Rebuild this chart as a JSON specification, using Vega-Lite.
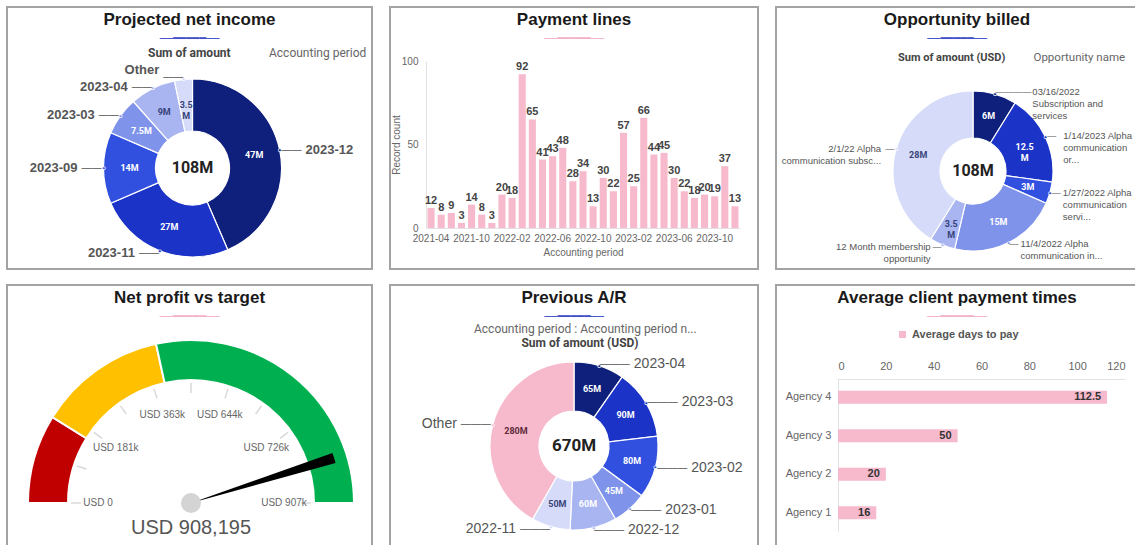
{
  "$schema": "https://vega.github.io/schema/vega-lite/v6.json",
  "background": "white",
  "padding": {"left": 6, "top": 6, "right": 0, "bottom": 0},
  "spacing": 14,
  "resolve": {"scale": {"color": "independent", "fill": "independent", "theta": "independent"}, "legend": {"color": "independent", "fill": "independent"}},
  "config": {
    "view": {"stroke": "#a3a3a3", "strokeWidth": 2},
    "font": "Liberation Sans",
    "title": {"font": "Liberation Sans", "fontSize": 17, "fontWeight": "bold", "color": "#1a1a1a", "frame": "group", "offset": -38, "subtitleFont": "DejaVu Sans", "subtitleFontSize": 11, "subtitlePadding": 4},
    "axis": {"labelFont": "Liberation Sans", "titleFont": "Liberation Sans", "grid": false, "ticks": false, "domainColor": "#e3e3e3", "labelColor": "#666666", "titleColor": "#666666", "titleFontWeight": "normal"},
    "legend": {"labelFont": "Roboto", "titleFont": "Roboto", "padding": 0, "offset": 0}
  },
  "vconcat": [
    {
      "spacing": 16,
      "resolve": {"scale": {"color": "independent", "fill": "independent", "theta": "independent"}, "legend": {"color": "independent", "fill": "independent"}},
      "hconcat": [
        {
          "width": 365, "height": 262,
          "view": {"stroke": "#a3a3a3", "strokeWidth": 2},
          "title": {"text": "Projected net income", "subtitle": "──━━━━━──", "subtitleColor": "#3f51c7"},
          "layer": [
            {
              "data": {"values": [
                {"period": "2023-12", "amount": 47, "label": "47M", "ord": 1},
                {"period": "2023-11", "amount": 27, "label": "27M", "ord": 2},
                {"period": "2023-09", "amount": 14, "label": "14M", "ord": 3},
                {"period": "2023-03", "amount": 7.5, "label": "7.5M", "ord": 4},
                {"period": "2023-04", "amount": 9, "label": "9M", "ord": 5},
                {"period": "Other", "amount": 3.5, "label": "3.5\nM", "ord": 6}
              ]},
              "encoding": {
                "theta": {"field": "amount", "type": "quantitative", "stack": true},
                "order": {"field": "ord", "type": "quantitative"},
                "color": {"field": "period", "type": "nominal", "legend": null, "scale": {"domain": ["2023-12", "2023-11", "2023-09", "2023-03", "2023-04", "Other"], "range": ["#0e1f7c", "#1b33c6", "#3150df", "#7f93ea", "#a8b5f1", "#d5dbf8"]}}
              },
              "layer": [
                {"mark": {"type": "arc", "innerRadius": 37, "outerRadius": 89, "stroke": "white", "strokeWidth": 1.2, "xOffset": 3, "yOffset": 30}},
                {"mark": {"type": "text", "radius": 63, "xOffset": 3, "yOffset": 30, "fontSize": 9, "fontWeight": "bold", "font": "Roboto", "lineBreak": "\n", "baseline": "middle"},
                 "encoding": {"text": {"field": "label", "type": "nominal"}, "color": {"condition": {"test": "datum.period == '2023-04' || datum.period == 'Other'", "value": "#38437a"}, "value": "white"}}},
                {"mark": {"type": "text", "text": "●", "radius": 89, "xOffset": 3, "yOffset": 30, "fontSize": 7, "baseline": "middle", "stroke": "white", "strokeWidth": 0.6}},
                {"mark": {"type": "text", "text": "——", "radius": 91, "xOffset": 3, "yOffset": 30, "fontSize": 10, "baseline": "middle", "align": {"expr": "datum.amount_start + datum.amount_end > 108 ? 'right' : 'left'"}},
                 "encoding": {"color": {"value": "#555555"}}},
                {"mark": {"type": "text", "radius": 91, "xOffset": 3, "yOffset": 30, "fontSize": 13, "fontWeight": "bold",
                   "baseline": {"expr": "cos(PI * (datum.amount_start + datum.amount_end) / 108) > 0.95 ? 'bottom' : 'middle'"},
                   "align": {"expr": "datum.amount_start + datum.amount_end > 108 ? 'right' : 'left'"},
                   "dx": {"expr": "datum.amount_start + datum.amount_end > 108 ? -24 : 24"}},
                 "encoding": {"text": {"field": "period", "type": "nominal"}, "color": {"value": "#555555"}}}
              ]
            },
            {
              "data": {"values": [{"t": "108M"}]},
              "mark": {"type": "text", "fontSize": 16, "fontWeight": "bold", "font": "Roboto", "xOffset": 3, "yOffset": 30, "baseline": "middle"},
              "encoding": {
                "text": {"field": "t", "type": "nominal"},
                "fill": {"datum": "Accounting period", "type": "nominal", "scale": {"range": ["#222222"]},
                  "legend": {"orient": "none", "legendX": 141, "legendY": 40, "title": "Sum of amount", "titleOrient": "left", "titleFontSize": 12, "titleFontWeight": "bold", "titleColor": "#444444", "labelFontSize": 12, "labelColor": "#666666", "symbolOpacity": 0, "symbolSize": 1, "titlePadding": 22}}
              }
            }
          ]
        },
        {
          "width": 368, "height": 262,
          "title": {"text": "Payment lines", "subtitle": "──━━━━━──", "subtitleColor": "#f4b2c6"},
          "data": {"values": [
            {"month": "2021-04", "count": 12}, {"month": "2021-06", "count": 8}, {"month": "2021-07", "count": 9},
            {"month": "2021-09", "count": 3}, {"month": "2021-10", "count": 14}, {"month": "2021-11", "count": 8},
            {"month": "2021-12", "count": 3}, {"month": "2022-01", "count": 20}, {"month": "2022-02", "count": 18},
            {"month": "2022-03", "count": 92}, {"month": "2022-04", "count": 65}, {"month": "2022-05", "count": 41},
            {"month": "2022-06", "count": 43}, {"month": "2022-07", "count": 48}, {"month": "2022-08", "count": 28},
            {"month": "2022-09", "count": 34}, {"month": "2022-10", "count": 13}, {"month": "2022-11", "count": 30},
            {"month": "2022-12", "count": 22}, {"month": "2023-01", "count": 57}, {"month": "2023-02", "count": 25},
            {"month": "2023-03", "count": 66}, {"month": "2023-04", "count": 44}, {"month": "2023-05", "count": 45},
            {"month": "2023-06", "count": 30}, {"month": "2023-07", "count": 22}, {"month": "2023-08", "count": 18},
            {"month": "2023-09", "count": 20}, {"month": "2023-10", "count": 19}, {"month": "2023-11", "count": 37},
            {"month": "2023-12", "count": 13}
          ]},
          "encoding": {
            "x": {"field": "month", "type": "ordinal", "sort": null,
              "scale": {"range": [36, 350], "paddingInner": 0.3, "paddingOuter": 0.15},
              "axis": {"values": ["2021-04", "2021-10", "2022-02", "2022-06", "2022-10", "2023-02", "2023-06", "2023-10"], "labelAngle": 0, "labelOverlap": false, "offset": -41, "title": "Accounting period", "labelFontSize": 10, "titleFontSize": 10, "labelPadding": 5, "titlePadding": 4}},
            "y": {"field": "count", "type": "quantitative",
              "scale": {"domain": [0, 100], "range": [221, 54]},
              "axis": {"values": [0, 50, 100], "offset": -36, "title": "Record count", "labelFontSize": 10, "titleFontSize": 10, "labelPadding": 8, "titlePadding": 0}}
          },
          "layer": [
            {"mark": {"type": "bar", "color": "#f7b9cc"}},
            {"mark": {"type": "text", "baseline": "bottom", "dy": -2, "fontSize": 11, "fontWeight": "bold", "color": "#444444"},
             "encoding": {"text": {"field": "count", "type": "quantitative"}}}
          ]
        },
        {
          "width": 362, "height": 262,
          "view": {"stroke": "#a3a3a3", "strokeWidth": 2},
          "title": {"text": "Opportunity billed", "subtitle": "──━━━━━──", "subtitleColor": "#3f51c7"},
          "layer": [
            {
              "data": {"values": [
                {"opp": "03/16/2022\nSubscription and\nservices", "amount": 6, "label": "6M", "ord": 1},
                {"opp": "1/14/2023 Alpha\ncommunication\nor...", "amount": 12.5, "label": "12.5\nM", "ord": 2},
                {"opp": "1/27/2022 Alpha\ncommunication\nservi...", "amount": 3, "label": "3M", "ord": 3},
                {"opp": "11/4/2022 Alpha\ncommunication in...", "amount": 15, "label": "15M", "ord": 4},
                {"opp": "12 Month membership\nopportunity", "amount": 3.5, "label": "3.5\nM", "ord": 5},
                {"opp": "2/1/22 Alpha\ncommunication subsc...", "amount": 28, "label": "28M", "ord": 6}
              ]},
              "encoding": {
                "theta": {"field": "amount", "type": "quantitative", "stack": true},
                "order": {"field": "ord", "type": "quantitative"},
                "color": {"field": "opp", "type": "nominal", "legend": null, "sort": null, "scale": {"range": ["#0e1f7c", "#1b33c6", "#3150df", "#7f93ea", "#a8b5f1", "#d5dbf8"]}}
              },
              "layer": [
                {"mark": {"type": "arc", "innerRadius": 33, "outerRadius": 80, "stroke": "white", "strokeWidth": 1.2, "xOffset": 16, "yOffset": 33}},
                {"mark": {"type": "text", "radius": 57, "xOffset": 16, "yOffset": 33, "fontSize": 9, "fontWeight": "bold", "font": "Roboto", "lineBreak": "\n", "baseline": "middle"},
                 "encoding": {"text": {"field": "label", "type": "nominal"}, "color": {"condition": {"test": "datum.ord >= 5", "value": "#38437a"}, "value": "white"}}},
                {"mark": {"type": "text", "text": "●", "radius": 80, "xOffset": 16, "yOffset": 33, "fontSize": 7, "baseline": "middle", "stroke": "white", "strokeWidth": 0.6}},
                {"mark": {"type": "text", "radius": 82, "xOffset": 16, "yOffset": 33, "fontSize": 9, "baseline": "middle",
                   "text": {"expr": "cos(PI * (datum.amount_start + datum.amount_end) / 68) > 0.8 ? '————' : '—'"},
                   "align": {"expr": "datum.amount_start + datum.amount_end > 68 ? 'right' : 'left'"}},
                 "encoding": {"color": {"value": "#555555"}}},
                {"mark": {"type": "text", "radius": 82, "xOffset": 16, "yOffset": 33, "fontSize": 9.5, "lineBreak": "\n", "lineHeight": 12, "baseline": "middle",
                   "align": {"expr": "datum.amount_start + datum.amount_end > 68 ? 'right' : 'left'"},
                   "dx": {"expr": "(datum.amount_start + datum.amount_end > 68 ? -1 : 1) * (11 + 28 * pow(max(0, cos(PI * (datum.amount_start + datum.amount_end) / 68)), 2))"}},
                 "encoding": {"text": {"field": "opp", "type": "nominal"}, "color": {"value": "#555555"}}}
              ]
            },
            {
              "data": {"values": [{"t": "108M"}]},
              "mark": {"type": "text", "fontSize": 16, "fontWeight": "bold", "font": "Roboto", "xOffset": 16, "yOffset": 33, "baseline": "middle"},
              "encoding": {
                "text": {"field": "t", "type": "nominal"},
                "fill": {"datum": "Opportunity name", "type": "nominal", "scale": {"range": ["#222222"]},
                  "legend": {"orient": "none", "legendX": 122, "legendY": 45, "title": "Sum of amount (USD)", "titleOrient": "left", "titleFontSize": 11, "titleFontWeight": "bold", "titleColor": "#444444", "labelFontSize": 11.5, "labelColor": "#666666", "symbolOpacity": 0, "symbolSize": 1, "titlePadding": 12, "titleLimit": 300}}
              }
            }
          ]
        }
      ]
    },
    {
      "spacing": 16,
      "resolve": {"scale": {"color": "independent", "fill": "independent", "theta": "independent"}, "legend": {"color": "independent", "fill": "independent"}},
      "hconcat": [
        {
          "width": 365, "height": 266,
          "view": {"stroke": "#a3a3a3", "strokeWidth": 2},
          "title": {"text": "Net profit vs target", "subtitle": "──━━━━━──", "subtitleColor": "#f4b2c6"},
          "layer": [
            {
              "data": {"values": [
                {"band": "low", "from": 0, "to": 160000},
                {"band": "mid", "from": 160000, "to": 391000},
                {"band": "high", "from": 391000, "to": 907000}
              ]},
              "mark": {"type": "arc", "innerRadius": 123, "outerRadius": 163, "stroke": "white", "strokeWidth": 2, "xOffset": 1.5, "yOffset": 85},
              "encoding": {
                "theta": {"field": "from", "type": "quantitative", "stack": null, "scale": {"domain": [0, 907000], "range": [-1.5708, 1.5708]}},
                "theta2": {"field": "to"},
                "color": {"field": "band", "type": "nominal", "legend": null, "scale": {"domain": ["low", "mid", "high"], "range": ["#c00000", "#ffc000", "#00b050"]}}
              }
            },
            {
              "data": {"values": [
                {"v": 0}, {"v": 90700}, {"v": 181400}, {"v": 272100}, {"v": 362800}, {"v": 453500},
                {"v": 544200}, {"v": 634900}, {"v": 725600}, {"v": 816300}, {"v": 907000}
              ]},
              "mark": {"type": "arc", "innerRadius": 110, "outerRadius": 120, "filled": false, "stroke": "#d9d9d9", "strokeWidth": 1.5, "xOffset": 1.5, "yOffset": 85},
              "encoding": {
                "theta": {"field": "v", "type": "quantitative", "stack": null, "scale": {"domain": [0, 907000], "range": [-1.5708, 1.5708]}},
                "theta2": {"field": "v"}
              }
            },
            {
              "data": {"values": [
                {"v": 0, "t": "USD 0"}, {"v": 181400, "t": "USD 181k"}, {"v": 362800, "t": "USD 363k"},
                {"v": 544200, "t": "USD 644k"}, {"v": 725600, "t": "USD 726k"}, {"v": 907000, "t": "USD 907k"}
              ]},
              "mark": {"type": "text", "radius": 93, "xOffset": 1.5, "yOffset": 85, "fontSize": 10, "color": "#666666", "baseline": "middle"},
              "encoding": {
                "theta": {"field": "v", "type": "quantitative", "stack": null, "scale": {"domain": [0, 907000], "range": [-1.5708, 1.5708]}},
                "text": {"field": "t", "type": "nominal"}
              }
            },
            {
              "data": {"values": [{"from": 809000, "to": 829000}]},
              "mark": {"type": "arc", "innerRadius": 0, "outerRadius": 150, "color": "black", "xOffset": 1.5, "yOffset": 85},
              "encoding": {
                "theta": {"field": "from", "type": "quantitative", "stack": null, "scale": {"domain": [0, 907000], "range": [-1.5708, 1.5708]}},
                "theta2": {"field": "to"}
              }
            },
            {
              "data": {"values": [{"k": 1}]},
              "mark": {"type": "arc", "theta": 0, "theta2": 6.2832, "innerRadius": 0, "outerRadius": 10, "color": "#d4d4d4", "xOffset": 1.5, "yOffset": 85},
              "encoding": {}
            },
            {
              "data": {"values": [{"t": "USD 908,195"}]},
              "mark": {"type": "text", "fontSize": 20, "color": "#555555", "xOffset": 1.5, "yOffset": 85, "dy": 25, "baseline": "middle"},
              "encoding": {"text": {"field": "t", "type": "nominal"}}
            }
          ]
        },
        {
          "width": 368, "height": 266,
          "view": {"stroke": "#a3a3a3", "strokeWidth": 2},
          "title": {"text": "Previous A/R", "subtitle": "──━━━━━──", "subtitleColor": "#3f51c7"},
          "layer": [
            {
              "data": {"values": [
                {"period": "2023-04", "amount": 65, "label": "65M", "ord": 1},
                {"period": "2023-03", "amount": 90, "label": "90M", "ord": 2},
                {"period": "2023-02", "amount": 80, "label": "80M", "ord": 3},
                {"period": "2023-01", "amount": 45, "label": "45M", "ord": 4},
                {"period": "2022-12", "amount": 60, "label": "60M", "ord": 5},
                {"period": "2022-11", "amount": 50, "label": "50M", "ord": 6},
                {"period": "Other", "amount": 280, "label": "280M", "ord": 7}
              ]},
              "encoding": {
                "theta": {"field": "amount", "type": "quantitative", "stack": true},
                "order": {"field": "ord", "type": "quantitative"},
                "color": {"field": "period", "type": "nominal", "legend": null, "scale": {"domain": ["2023-04", "2023-03", "2023-02", "2023-01", "2022-12", "2022-11", "Other"], "range": ["#0e1f7c", "#1b33c6", "#3150df", "#7f93ea", "#a8b5f1", "#d5dbf8", "#f7b9cc"]}}
              },
              "layer": [
                {"mark": {"type": "arc", "innerRadius": 35, "outerRadius": 84, "stroke": "white", "strokeWidth": 1.2, "yOffset": 28}},
                {"mark": {"type": "text", "radius": 60, "yOffset": 28, "fontSize": 9, "fontWeight": "bold", "font": "Roboto", "baseline": "middle"},
                 "encoding": {"text": {"field": "label", "type": "nominal"}, "color": {"condition": [{"test": "datum.period == 'Other'", "value": "#5e2a3a"}, {"test": "datum.period == '2022-11'", "value": "#38437a"}], "value": "white"}}},
                {"mark": {"type": "text", "text": "●", "radius": 84, "yOffset": 28, "fontSize": 7, "baseline": "middle", "stroke": "white", "strokeWidth": 0.6}},
                {"mark": {"type": "text", "text": "———", "radius": 86, "yOffset": 28, "fontSize": 10, "baseline": "middle", "align": {"expr": "datum.amount_start + datum.amount_end > 670 ? 'right' : 'left'"}},
                 "encoding": {"color": {"value": "#555555"}}},
                {"mark": {"type": "text", "radius": 86, "yOffset": 28, "fontSize": 14, "baseline": "middle", "align": {"expr": "datum.amount_start + datum.amount_end > 670 ? 'right' : 'left'"}, "dx": {"expr": "datum.amount_start + datum.amount_end > 670 ? -34 : 34"}},
                 "encoding": {"text": {"field": "period", "type": "nominal"}, "color": {"value": "#555555"}}}
              ]
            },
            {
              "data": {"values": [{"t": "670M"}]},
              "mark": {"type": "text", "fontSize": 17, "fontWeight": "bold", "font": "Roboto", "yOffset": 28, "baseline": "middle"},
              "encoding": {
                "text": {"field": "t", "type": "nominal"},
                "fill": {"datum": "Accounting period  : Accounting period  n...", "type": "nominal", "scale": {"range": ["#222222"]},
                  "legend": {"orient": "none", "legendX": 68, "legendY": 38, "title": "Sum of amount (USD)", "titleOrient": "bottom", "titleAnchor": "middle", "titleFontSize": 12, "titleFontWeight": "bold", "titleColor": "#444444", "labelFontSize": 12, "labelColor": "#666666", "labelLimit": 400, "symbolOpacity": 0, "symbolSize": 1, "titlePadding": 3, "titleLimit": 300}}
              }
            }
          ]
        },
        {
          "width": 362, "height": 266,
          "title": {"text": "Average client payment times", "subtitle": "──━━━━━──", "subtitleColor": "#f4b2c6"},
          "data": {"values": [
            {"agency": "Agency 4", "days": 112.5},
            {"agency": "Agency 3", "days": 50},
            {"agency": "Agency 2", "days": 20},
            {"agency": "Agency 1", "days": 16}
          ]},
          "encoding": {
            "y": {"field": "agency", "type": "nominal", "sort": ["Agency 4", "Agency 3", "Agency 2", "Agency 1"],
              "scale": {"range": [93, 247], "paddingInner": 0.66, "paddingOuter": 0.33},
              "axis": {"title": null, "offset": -62, "labelFontSize": 11, "labelPadding": 7}},
            "x": {"field": "days", "type": "quantitative",
              "scale": {"domain": [0, 120], "range": [62, 349]},
              "axis": {"orient": "top", "offset": -94, "values": [0, 20, 40, 60, 80, 100, 120], "title": null, "labelFontSize": 11, "labelPadding": 8}}
          },
          "layer": [
            {"mark": {"type": "bar"},
             "encoding": {"color": {"datum": "Average days to pay", "type": "nominal", "scale": {"range": ["#f7b9cc"]},
               "legend": {"orient": "none", "legendX": 121, "legendY": 44, "title": null, "symbolType": "square", "symbolSize": 50, "labelFontSize": 11, "labelFontWeight": "bold", "labelColor": "#555555", "labelFont": "Liberation Sans"}}}},
            {"mark": {"type": "text", "align": "right", "dx": -6, "fontSize": 11, "fontWeight": "bold", "color": "#333333"},
             "encoding": {"text": {"field": "days", "type": "quantitative"}}}
          ]
        }
      ]
    }
  ]
}
